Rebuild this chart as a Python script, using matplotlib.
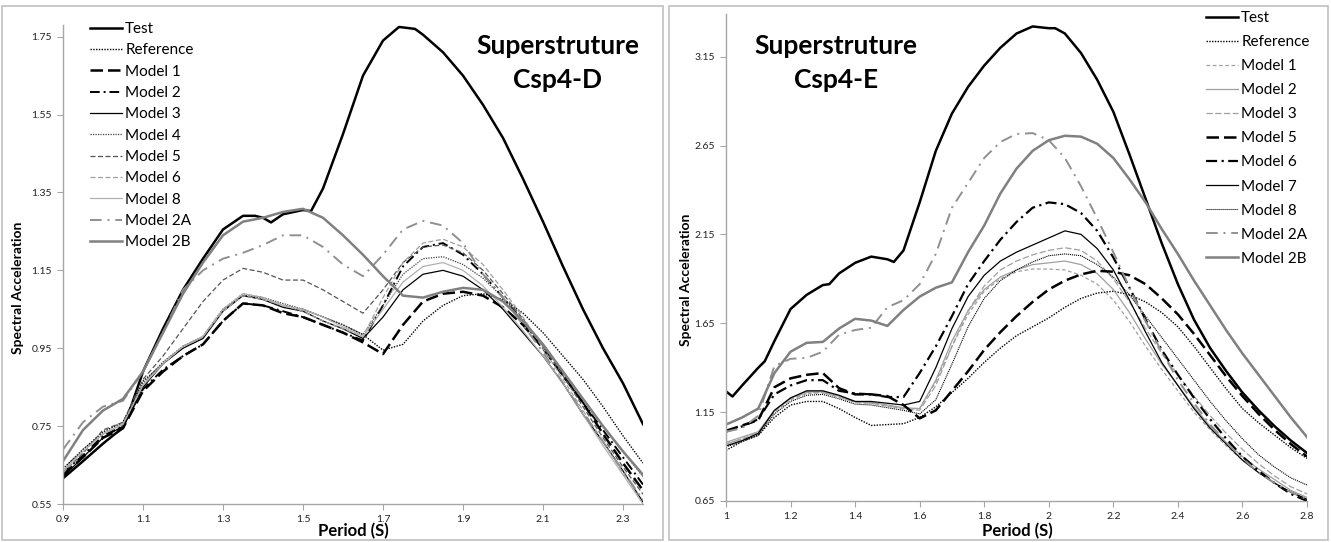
import matplotlib
matplotlib.use('Agg')
import matplotlib.pyplot as plt
from matplotlib.patches import Rectangle

plt.rcParams['font.family'] = ['Lato', 'DejaVu Sans']

# ---------------- left chart: Csp4-D ----------------
period_d = [0.9, 0.95, 1.0, 1.05, 1.1, 1.15, 1.2, 1.25, 1.3, 1.35, 1.4, 1.45, 1.5, 1.55, 1.6,
            1.65, 1.7, 1.75, 1.8, 1.85, 1.9, 1.95, 2.0, 2.05, 2.1, 2.15, 2.2, 2.25, 2.3, 2.35]
test_period_d = [0.9, 0.95, 1.0, 1.03, 1.05, 1.07, 1.1, 1.15, 1.2, 1.25, 1.3, 1.35, 1.38, 1.4, 1.42,
                 1.45, 1.5, 1.52, 1.55, 1.6, 1.65, 1.7, 1.74, 1.78, 1.8, 1.85, 1.9, 1.95, 2.0, 2.05,
                 2.1, 2.15, 2.2, 2.25, 2.3, 2.35]
test_d = [0.616, 0.66, 0.705, 0.73, 0.745, 0.80, 0.89, 1.0, 1.10, 1.18, 1.255, 1.29, 1.29, 1.285, 1.273,
          1.294, 1.305, 1.302, 1.36, 1.50, 1.65, 1.74, 1.775, 1.77, 1.755, 1.71, 1.65, 1.575, 1.49, 1.385,
          1.275, 1.16, 1.05, 0.95, 0.86, 0.755]
ref_d = [0.64, 0.69, 0.735, 0.76, 0.865, 0.91, 0.955, 0.98, 1.05, 1.085, 1.08, 1.06, 1.05, 1.03, 1.01,
         0.985, 0.945, 0.96, 1.02, 1.06, 1.085, 1.09, 1.075, 1.04, 0.99, 0.93, 0.87, 0.80, 0.725, 0.655]
m1_d = [0.625, 0.67, 0.72, 0.745, 0.84, 0.89, 0.93, 0.96, 1.02, 1.065, 1.06, 1.04, 1.03, 1.01, 0.99,
        0.965, 0.935, 1.01, 1.07, 1.09, 1.095, 1.085, 1.055, 1.01, 0.95, 0.88, 0.81, 0.73, 0.655, 0.585]
m2_d = [0.63, 0.675, 0.725, 0.75, 0.845, 0.895, 0.93, 0.96, 1.02, 1.065, 1.06, 1.045, 1.03, 1.01, 0.99,
        0.97, 1.06, 1.16, 1.21, 1.22, 1.19, 1.14, 1.08, 1.02, 0.95, 0.88, 0.81, 0.74, 0.67, 0.60]
m3_d = [0.62, 0.67, 0.72, 0.75, 0.85, 0.91, 0.95, 0.975, 1.045, 1.085, 1.075, 1.055, 1.045, 1.02, 1.0,
        0.975, 1.03, 1.10, 1.14, 1.15, 1.135, 1.10, 1.05, 0.99, 0.93, 0.86, 0.78, 0.71, 0.635, 0.555]
m4_d = [0.64, 0.69, 0.73, 0.755, 0.86, 0.915, 0.955, 0.98, 1.05, 1.09, 1.08, 1.065, 1.05, 1.03, 1.01,
        0.985, 1.06, 1.14, 1.18, 1.185, 1.165, 1.13, 1.08, 1.02, 0.96, 0.89, 0.82, 0.75, 0.685, 0.62]
m5_d = [0.63, 0.68, 0.74, 0.76, 0.87, 0.93, 1.0, 1.07, 1.125, 1.155, 1.145, 1.125, 1.125, 1.10, 1.07,
        1.04, 1.10, 1.17, 1.21, 1.215, 1.195, 1.15, 1.09, 1.025, 0.955, 0.88, 0.80, 0.72, 0.645, 0.575]
m6_d = [0.63, 0.685, 0.73, 0.755, 0.855, 0.91, 0.955, 0.98, 1.045, 1.085, 1.075, 1.06, 1.045, 1.02, 1.0,
        0.98, 1.08, 1.17, 1.22, 1.23, 1.21, 1.165, 1.10, 1.03, 0.95, 0.87, 0.79, 0.71, 0.63, 0.56]
m8_d = [0.635, 0.685, 0.73, 0.755, 0.855, 0.91, 0.955, 0.98, 1.05, 1.09, 1.08, 1.06, 1.05, 1.03, 1.005,
        0.98, 1.05, 1.12, 1.16, 1.17, 1.15, 1.11, 1.055, 0.995, 0.93, 0.86, 0.78, 0.70, 0.625, 0.55]
m2a_d = [0.69, 0.76, 0.80, 0.815, 0.89, 0.99, 1.10, 1.15, 1.18, 1.195, 1.215, 1.24, 1.24, 1.21, 1.165,
         1.135, 1.19, 1.255, 1.277, 1.265, 1.22, 1.14, 1.08, 1.01, 0.94, 0.86, 0.785, 0.71, 0.635, 0.56]
m2b_d = [0.66, 0.74, 0.79, 0.82, 0.89, 0.99, 1.09, 1.17, 1.24, 1.275, 1.285, 1.30, 1.308, 1.285, 1.24,
         1.19, 1.135, 1.085, 1.08, 1.095, 1.105, 1.10, 1.07, 1.02, 0.96, 0.89, 0.82, 0.75, 0.685, 0.625]

# ---------------- right chart: Csp4-E ----------------
period_e = [1.0, 1.05, 1.1, 1.15, 1.2, 1.25, 1.3, 1.35, 1.4, 1.45, 1.5, 1.55, 1.6, 1.65, 1.7, 1.75,
            1.8, 1.85, 1.9, 1.95, 2.0, 2.05, 2.1, 2.15, 2.2, 2.25, 2.3, 2.35, 2.4, 2.45, 2.5, 2.55,
            2.6, 2.65, 2.7, 2.75, 2.8]
test_period_e = [1.0, 1.02, 1.05, 1.1, 1.12, 1.15, 1.2, 1.25, 1.3, 1.32, 1.35, 1.4, 1.45, 1.5, 1.52,
                 1.55, 1.6, 1.65, 1.7, 1.75, 1.8, 1.85, 1.9, 1.95, 2.0, 2.02, 2.05, 2.1, 2.15, 2.2,
                 2.25, 2.3, 2.35, 2.4, 2.45, 2.5, 2.55, 2.6, 2.65, 2.7, 2.75, 2.8]
test_e = [1.267, 1.238, 1.30, 1.40, 1.436, 1.55, 1.73, 1.81, 1.865, 1.87, 1.93, 1.99, 2.025, 2.01, 1.995,
          2.06, 2.33, 2.62, 2.83, 2.98, 3.10, 3.20, 3.28, 3.32, 3.31, 3.31, 3.28, 3.17, 3.02, 2.84,
          2.60, 2.35, 2.10, 1.87, 1.67, 1.51, 1.38, 1.26, 1.16, 1.07, 0.99, 0.92]
ref_e = [0.935, 0.985, 1.02, 1.12, 1.19, 1.21, 1.21, 1.17, 1.12, 1.075, 1.08, 1.085, 1.12, 1.18, 1.26,
         1.34, 1.43, 1.51, 1.58, 1.63, 1.68, 1.74, 1.79, 1.82, 1.83, 1.81, 1.77, 1.71, 1.63, 1.52,
         1.40, 1.28, 1.17, 1.09, 1.02, 0.95, 0.89]
m1_e = [0.97, 1.0, 1.03, 1.15, 1.22, 1.255, 1.26, 1.235, 1.205, 1.20, 1.185, 1.17, 1.17, 1.32, 1.52,
        1.70, 1.83, 1.90, 1.94, 1.955, 1.955, 1.95, 1.92, 1.87, 1.78, 1.66, 1.52, 1.39, 1.27, 1.15,
        1.05, 0.96, 0.88, 0.81, 0.75, 0.70, 0.66]
m2_e = [0.98, 1.01, 1.04, 1.16, 1.23, 1.265, 1.265, 1.24, 1.21, 1.205, 1.19, 1.175, 1.17, 1.33, 1.55,
        1.72, 1.84, 1.91, 1.95, 1.98, 1.99, 2.0, 1.98, 1.93, 1.84, 1.71, 1.56, 1.42, 1.30, 1.18,
        1.07, 0.98, 0.90, 0.83, 0.77, 0.71, 0.67]
m3_e = [0.97, 1.0, 1.035, 1.155, 1.225, 1.26, 1.26, 1.235, 1.205, 1.20, 1.185, 1.17, 1.16, 1.30, 1.52,
        1.72, 1.86, 1.95, 2.0, 2.035, 2.06, 2.075, 2.06, 2.0, 1.90, 1.77, 1.62, 1.48, 1.36, 1.24,
        1.13, 1.03, 0.94, 0.86, 0.79, 0.73, 0.69]
m5_e = [1.045, 1.075, 1.105, 1.29, 1.34, 1.36, 1.37, 1.285, 1.25, 1.25, 1.24, 1.19, 1.115, 1.16, 1.27,
        1.38, 1.50, 1.60, 1.69, 1.77, 1.84, 1.89, 1.925, 1.945, 1.94, 1.92, 1.87, 1.79, 1.70, 1.59,
        1.47, 1.35, 1.24, 1.14, 1.05, 0.97, 0.90]
m6_e = [1.04, 1.07, 1.11, 1.25, 1.30, 1.33, 1.33, 1.27, 1.255, 1.25, 1.235, 1.235, 1.37, 1.52, 1.69,
        1.87, 2.0, 2.12, 2.22, 2.30, 2.33, 2.32, 2.27, 2.17, 2.02, 1.85, 1.67, 1.50, 1.36, 1.23,
        1.11, 1.0, 0.90, 0.82, 0.75, 0.69, 0.65]
m7_e = [0.96, 0.99, 1.03, 1.16, 1.23, 1.27, 1.27, 1.245, 1.21, 1.21, 1.20, 1.19, 1.21, 1.40, 1.62,
        1.80, 1.92, 2.0, 2.05, 2.09, 2.13, 2.17, 2.15, 2.07, 1.95, 1.78, 1.60, 1.43, 1.30, 1.17,
        1.06, 0.97, 0.88, 0.81, 0.75, 0.70, 0.66]
m8_e = [0.955, 0.985, 1.02, 1.14, 1.21, 1.245, 1.25, 1.225, 1.195, 1.19, 1.175, 1.16, 1.14, 1.22, 1.42,
        1.63, 1.79, 1.89, 1.95, 1.995, 2.03, 2.04, 2.03, 1.98, 1.91, 1.81, 1.69, 1.57, 1.45, 1.33,
        1.21, 1.10, 1.0, 0.91, 0.84, 0.78, 0.74]
m2a_e = [1.04, 1.06, 1.13, 1.41, 1.45, 1.455, 1.49, 1.585, 1.612, 1.625, 1.74, 1.78, 1.87, 2.04, 2.30,
         2.44, 2.58, 2.67, 2.715, 2.72, 2.68, 2.58, 2.42, 2.24, 2.05, 1.85, 1.66, 1.49, 1.33, 1.20,
         1.08, 0.98, 0.89, 0.81, 0.75, 0.70, 0.66]
m2b_e = [1.08, 1.12, 1.17, 1.37, 1.49, 1.54, 1.545, 1.62, 1.675, 1.665, 1.635, 1.725, 1.80, 1.85, 1.88,
         2.05, 2.20, 2.38, 2.52, 2.62, 2.68, 2.705, 2.70, 2.66, 2.58, 2.46, 2.33, 2.18, 2.04, 1.89,
         1.75, 1.61, 1.48, 1.36, 1.24, 1.12, 1.01]

xticks_d = [0.9, 1.1, 1.3, 1.5, 1.7, 1.9, 2.1, 2.3]
yticks_d = [0.55, 0.75, 0.95, 1.15, 1.35, 1.55, 1.75]
xticks_e = [1.0, 1.2, 1.4, 1.6, 1.8, 2.0, 2.2, 2.4, 2.6, 2.8]
yticks_e = [0.65, 1.15, 1.65, 2.15, 2.65, 3.15]

W, H = 1331, 542
fig = plt.figure(figsize=(W / 100, H / 100), dpi=100)

# panel borders
fig.patches.append(Rectangle((2 / W, 1 - 540 / H), 661 / W, 534 / H, transform=fig.transFigure,
                             fill=False, edgecolor='#c0c0c0', lw=1.2))
fig.patches.append(Rectangle((669 / W, 1 - 540 / H), 659 / W, 534 / H, transform=fig.transFigure,
                             fill=False, edgecolor='#c0c0c0', lw=1.2))

axl = fig.add_axes([63 / W, 1 - 504 / H, 580 / W, 479 / H])
axr = fig.add_axes([726 / W, 1 - 501 / H, 581 / W, 487 / H])

# (label, x, y, color, linestyle, linewidth)
left_series = [
    ('Test', test_period_d, test_d, 'black', '-', 1.8),
    ('Reference', period_d, ref_d, 'black', (0, (1, 1)), 1.0),
    ('Model 1', period_d, m1_d, 'black', (0, (5, 2)), 1.8),
    ('Model 2', period_d, m2_d, 'black', (0, (5, 2, 1, 2)), 1.4),
    ('Model 3', period_d, m3_d, 'black', '-', 0.9),
    ('Model 4', period_d, m4_d, '#404040', (0, (1, 1)), 0.9),
    ('Model 5', period_d, m5_d, '#555555', (0, (4, 2)), 0.9),
    ('Model 6', period_d, m6_d, '#a0a0a0', (0, (4, 2)), 0.9),
    ('Model 8', period_d, m8_d, '#b0b0b0', '-', 0.9),
    ('Model 2A', period_d, m2a_d, '#909090', (0, (6, 3, 1, 3)), 1.4),
    ('Model 2B', period_d, m2b_d, '#808080', '-', 1.8),
]
right_series = [
    ('Test', test_period_e, test_e, 'black', '-', 1.8),
    ('Reference', period_e, ref_e, 'black', (0, (1, 1)), 1.0),
    ('Model 1', period_e, m1_e, '#a0a0a0', (0, (3, 2)), 0.9),
    ('Model 2', period_e, m2_e, '#a0a0a0', '-', 0.9),
    ('Model 3', period_e, m3_e, '#a0a0a0', (0, (5, 2)), 0.9),
    ('Model 5', period_e, m5_e, 'black', (0, (5, 2)), 1.8),
    ('Model 6', period_e, m6_e, 'black', (0, (5, 2, 1, 2)), 1.6),
    ('Model 7', period_e, m7_e, 'black', '-', 0.9),
    ('Model 8', period_e, m8_e, 'black', (0, (1, 0.8)), 0.8),
    ('Model 2A', period_e, m2a_e, '#909090', (0, (6, 3, 1, 3)), 1.4),
    ('Model 2B', period_e, m2b_e, '#808080', '-', 1.8),
]

for ax, series in ((axl, left_series), (axr, right_series)):
    for lab, xs, ys, c, ls, lw in series:
        ax.plot(xs, ys, color=c, linestyle=ls, linewidth=lw, label=lab)
    for s in ('top', 'right'):
        ax.spines[s].set_visible(False)
    for s in ('left', 'bottom'):
        ax.spines[s].set_color('#a6a6a6')
        ax.spines[s].set_linewidth(1.0)
    ax.tick_params(direction='out', length=4, width=0.8, color='#a6a6a6',
                   labelsize=7.5, labelcolor='#222222', pad=4)

axl.set_xlim(0.9, 2.35)
axl.set_ylim(0.55, 1.78)
axl.set_xticks(xticks_d)
axl.set_xticklabels(['%g' % v for v in xticks_d])
axl.set_yticks(yticks_d)
axl.set_yticklabels(['%.2f' % v for v in yticks_d])

axr.set_xlim(1.0, 2.8)
axr.set_ylim(0.65, 3.39)
axr.set_xticks(xticks_e)
axr.set_xticklabels(['%g' % v for v in xticks_e])
axr.set_yticks(yticks_e)
axr.set_yticklabels(['%.2f' % v for v in yticks_e])

axl.legend(loc='upper left', bbox_to_anchor=(90 / W, 1 - 22 / H), bbox_transform=fig.transFigure,
           frameon=False, fontsize=11, handlelength=2.1, handletextpad=0.2,
           labelspacing=0.48, borderpad=0, borderaxespad=0)
axr.legend(loc='upper left', bbox_to_anchor=(1206 / W, 1 - 11 / H), bbox_transform=fig.transFigure,
           frameon=False, fontsize=11, handlelength=2.1, handletextpad=0.2,
           labelspacing=0.66, borderpad=0, borderaxespad=0)

fig.text(558 / W, 1 - 63 / H, 'Superstruture\nCsp4-D', ha='center', va='center',
         fontsize=19, fontweight='bold', linespacing=1.5)
fig.text(836 / W, 1 - 63 / H, 'Superstruture\nCsp4-E', ha='center', va='center',
         fontsize=19, fontweight='bold', linespacing=1.5)

fig.text(18 / W, 1 - 288 / H, 'Spectral Acceleration', rotation=90, ha='center', va='center',
         fontsize=10, fontweight='bold')
fig.text(686 / W, 1 - 280 / H, 'Spectral Acceleration', rotation=90, ha='center', va='center',
         fontsize=10, fontweight='bold')
fig.text(353 / W, 1 - 531 / H, 'Period (S)', ha='center', va='center', fontsize=12, fontweight='bold')
fig.text(1017 / W, 1 - 531 / H, 'Period (S)', ha='center', va='center', fontsize=12, fontweight='bold')

fig.savefig('out.png', dpi=100)
